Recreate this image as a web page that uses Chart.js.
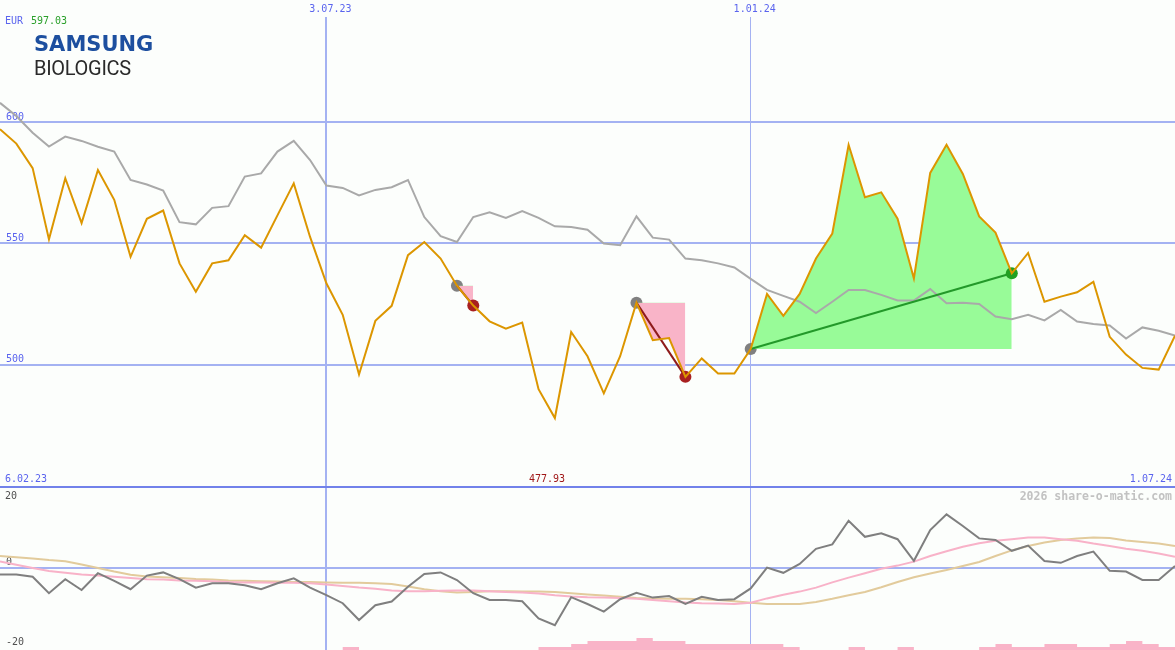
<!DOCTYPE html>
<html>
<head>
<meta charset="utf-8">
<title>Samsung Biologics</title>
<script src="https://cdn.jsdelivr.net/npm/chart.js@4.4.1/dist/chart.umd.min.js"></script>
<style>
  body { margin: 0; background: #fcfefc; }
  #wrap { position: relative; width: 1175px; height: 650px; overflow: hidden; }
  #top { position: absolute; left: 0; top: 0; }
  #sep { position: absolute; left: 0; top: 486px; width: 1175px; height: 2px; background: #7282ea; }
  #bot { position: absolute; left: 0; top: 488px; }
  .t { position: absolute; font: 10px/10px 'DejaVu Sans Mono', monospace; white-space: nowrap; }
  .blue { color: #5a64ee; }
  #brand { position: absolute; left: 34px; top: 34px; font: bold 21px/21px 'DejaVu Sans', sans-serif; color: #1d4f9f; }
  #sub { position: absolute; left: 34px; top: 58px; font: 20px/20px Roboto, sans-serif; letter-spacing: -0.3px; color: #2a2a2a; }
  #mark { position: absolute; right: 3px; top: 491px; font: bold 11.5px/11.5px 'DejaVu Sans Mono', monospace; color: #c2c2c2; }
</style>
</head>
<body>
<div id="wrap">
  <canvas id="top" width="1175" height="486"></canvas>
  <div id="sep"></div>
  <canvas id="bot" width="1175" height="162"></canvas>

  <div class="t blue" style="left:5px;top:16px">EUR</div>
  <div class="t" id="hi" style="left:31px;top:16px;color:#2aa02a"></div>
  <div id="brand">SAMSUNG</div>
  <div id="sub">BIOLOGICS</div>

  <div class="t blue" style="left:5px;top:474px">6.02.23</div>
  <div class="t" id="lo" style="left:529px;top:474px;color:#a01818"></div>
  <div class="t blue" style="right:3px;top:474px">1.07.24</div>
  <div id="mark">2026 share-o-matic.com</div>
</div>

<script>
// weekly closes, index 0 = first week shown
const price = [
  597.03, 591.1, 581.0, 551.6, 576.8, 558.3, 580.2, 567.9, 544.4, 560.1,
  563.5, 541.7, 530.0, 541.7, 543.0, 553.3, 548.2, 561.5, 574.7, 552.6,
  533.5, 520.5, 495.9, 518.0, 524.2, 545.1, 550.5, 543.7, 532.5, 524.3,
  517.8, 514.8, 517.3, 489.8, 477.93, 513.4, 503.4, 488.1, 503.4, 525.5,
  510.0, 510.9, 494.9, 502.5, 496.3, 496.3, 506.4, 529.1, 520.1, 529.1,
  543.7, 554.0, 590.6, 569.0, 571.0, 560.1, 535.5, 579.0, 590.6, 578.6,
  561.1, 554.4, 537.6, 546.0, 525.9, 528.0, 529.8, 534.1, 511.4, 504.1,
  498.6, 497.9, 511.9
]

// grey comparison line
const compare = [
  607.9, 602.5, 595.6, 589.9, 594.0, 592.2, 589.8, 587.8, 576.1, 574.2,
  571.7, 558.7, 557.8, 564.6, 565.3, 577.5, 578.8, 587.8, 592.2, 584.3,
  573.8, 572.8, 569.7, 572.0, 573.1, 576.1, 560.8, 552.9, 550.5, 560.8,
  562.8, 560.4, 563.3, 560.5, 557.0, 556.7, 555.6, 549.9, 549.2, 561.1,
  552.3, 551.5, 543.7, 543.0, 541.7, 540.0, 535.3, 530.8, 528.3, 525.9,
  521.2, 525.9, 530.7, 530.7, 528.7, 526.4, 526.4, 531.1, 525.3, 525.5,
  525.0, 519.8, 518.7, 520.5, 518.2, 522.5, 517.7, 516.7, 516.1, 510.7,
  515.3, 513.9, 511.9
]

// lower panel
const momentum = [
  -1.6, -1.6, -2.2, -6.3, -2.8, -5.5, -1.3, -3.2, -5.3, -1.9,
  -1.1, -2.8, -4.9, -3.8, -3.8, -4.3, -5.3, -3.8, -2.6, -4.9,
  -6.8, -8.8, -13.0, -9.3, -8.4, -4.7, -1.5, -1.1, -3.0, -6.3,
  -8.0, -8.0, -8.3, -12.6, -14.3, -7.3, -9.0, -10.9, -7.8, -6.2,
  -7.4, -7.0, -9.0, -7.2, -8.0, -7.8, -5.1, 0.1, -1.2, 1.0,
  4.8, 5.9, 11.8, 7.8, 8.7, 7.2, 1.8, 9.5, 13.4, 10.5,
  7.4, 7.0, 4.3, 5.6, 1.75, 1.3, 3.0, 4.1, -0.7, -0.9,
  -3.0, -3.0, 0.5
]

const signalFast = [
  1.6, 0.8, 0.0, -0.75, -1.2, -1.6, -1.9, -2.2, -2.5, -2.8,
  -2.9, -3.1, -3.2, -3.3, -3.5, -3.6, -3.6, -3.7, -3.7, -3.8,
  -4.1, -4.5, -4.9, -5.2, -5.6, -5.8, -5.8, -5.7, -5.6, -5.6,
  -5.8, -6.0, -6.1, -6.4, -6.8, -7.1, -7.3, -7.4, -7.5, -7.7,
  -8.0, -8.3, -8.6, -8.8, -8.9, -9.0, -8.7, -7.6, -6.7, -5.9,
  -4.9, -3.6, -2.4, -1.3, -0.2, 0.6, 1.6, 3.0, 4.2, 5.3,
  6.2, 6.8, 7.2, 7.6, 7.6, 7.2, 6.8, 6.1, 5.5, 4.8,
  4.3, 3.6, 2.8
]

const signalSlow = [
  3.0, 2.7, 2.4, 2.0, 1.7, 0.9, 0.0, -0.9, -1.7, -2.1,
  -2.3, -2.5, -2.75, -2.9, -3.1, -3.2, -3.3, -3.4, -3.5, -3.5,
  -3.6, -3.7, -3.7, -3.8, -4.0, -4.6, -5.3, -5.8, -6.1, -6.0,
  -5.8, -5.8, -5.9, -5.9, -6.0, -6.3, -6.6, -6.9, -7.2, -7.5,
  -7.6, -7.7, -7.7, -7.8, -8.0, -8.3, -8.7, -9.0, -9.0, -9.0,
  -8.5, -7.7, -6.8, -6.0, -4.8, -3.5, -2.3, -1.4, -0.5, 0.5,
  1.5, 3.0, 4.4, 5.5, 6.4, 7.0, 7.4, 7.6, 7.5, 6.9,
  6.5, 6.1, 5.5
]

// relative volume, one step per week
const volume = [
  0, 0, 0, 0, 0, 0, 0, 0, 0, 0,
  0, 0, 0, 0, 0, 0, 0, 0, 0, 0,
  0, 1, 0, 0, 0, 0, 0, 0, 0, 0,
  0, 0, 0, 1, 1, 2, 3, 3, 3, 4,
  3, 3, 2, 2, 2, 2, 2, 2, 1, 0,
  0, 0, 1, 0, 0, 1, 0, 0, 0, 0,
  1, 2, 1, 1, 2, 2, 1, 1, 2, 3,
  2, 1, 0
]

// trades: entry / exit week
const tradeStart = [28, 39, 46]
const tradeEnd = [29, 42, 62]

const dateTicks = [20, 46]
const dateLabels = ['3.07.23', '1.01.24']
const priceTicks = [500, 550, 600]
const oscTicks = [0, -20]
const oscTopTick = [20]

;(() => {
  'use strict'

  const mono = { family: "'DejaVu Sans Mono', monospace", size: 10 }
  const blueText = '#5a64ee'
  const gridBlue = '#a4b2f2'
  const orange = '#dc9600'
  const last = price.length - 1

  document.getElementById('hi').textContent = Math.max(...price).toFixed(2)
  document.getElementById('lo').textContent = Math.min(...price).toFixed(2)

  const pts = (arr, from = 0, to = arr.length - 1) =>
    arr.slice(from, to + 1).map((v, k) => ({ x: from + k, y: v }))

  const noPad = (s) => {
    s.paddingTop = 0
    s.paddingBottom = 0
    s.paddingLeft = 0
    s.paddingRight = 0
  }

  const baseOptions = {
    responsive: false,
    animation: false,
    events: [],
    layout: { padding: 0, autoPadding: false },
    plugins: { legend: { display: false }, tooltip: { enabled: false } }
  }

  // Price panel
  const topSets = [
    { data: pts(price), borderColor: orange, borderWidth: 2, pointRadius: 0, order: 0 },
    { data: pts(compare), borderColor: '#a9a9a9', borderWidth: 2, pointRadius: 0, order: 3 }
  ]

  tradeStart.forEach((a, k) => {
    const b = tradeEnd[k]
    const win = price[b] > price[a]
    topSets.push({
      data: pts(price, a, b),
      borderColor: 'transparent',
      borderWidth: 0,
      pointRadius: 0,
      fill: { target: { value: price[a] }, above: '#98fb98', below: '#f9b4c8' },
      order: 4
    })
    topSets.push({
      data: [{ x: a, y: price[a] }, { x: b, y: price[b] }],
      borderColor: win ? '#23992a' : '#8e1b1b',
      borderWidth: 2,
      pointRadius: 0,
      order: 2
    })
    topSets.push({
      data: [{ x: a, y: price[a] }],
      showLine: false,
      pointRadius: 6,
      pointBorderWidth: 0,
      pointBackgroundColor: '#808080',
      pointBorderColor: '#808080',
      order: 5
    })
    topSets.push({
      data: [{ x: b, y: price[b] }],
      showLine: false,
      pointRadius: 6,
      pointBorderWidth: 0,
      pointBackgroundColor: win ? '#22a022' : '#a82020',
      pointBorderColor: win ? '#22a022' : '#a82020',
      order: 1
    })
  })

  new Chart(document.getElementById('top'), {
    type: 'line',
    data: { datasets: topSets },
    options: {
      ...baseOptions,
      scales: {
        x: {
          type: 'linear',
          position: 'top',
          min: 0,
          max: last,
          afterBuildTicks: (s) => { s.ticks = dateTicks.map(v => ({ value: v })) },
          afterFit: (s) => { s.height = 17; noPad(s) },
          ticks: {
            font: mono,
            color: blueText,
            padding: 2,
            labelOffset: 4,
            maxRotation: 0,
            autoSkip: false,
            callback: (v, i) => dateLabels[i]
          },
          grid: { color: gridBlue, lineWidth: c => (c.index === 0 ? 2 : 1), drawTicks: false },
          border: { display: false }
        },
        y: {
          min: 449.9,
          max: 643.3,
          afterBuildTicks: (s) => { s.ticks = priceTicks.map(v => ({ value: v })) },
          afterFit: (s) => { s.width = 0; noPad(s) },
          ticks: { mirror: true, padding: 6, labelOffset: -5, font: mono, color: blueText },
          grid: { color: gridBlue, lineWidth: 2, drawTicks: false },
          border: { display: false }
        }
      }
    }
  })

  // Oscillator panel
  new Chart(document.getElementById('bot'), {
    type: 'line',
    data: {
      datasets: [
        { data: pts(momentum), borderColor: '#7f7f7f', borderWidth: 2, pointRadius: 0, order: 0 },
        { data: pts(signalFast), borderColor: '#f8b2c8', borderWidth: 2, pointRadius: 0, order: 1 },
        { data: pts(signalSlow), borderColor: '#e2cb9c', borderWidth: 2, pointRadius: 0, order: 2 },
        {
          data: pts(volume),
          yAxisID: 'yv',
          stepped: true,
          borderColor: 'transparent',
          borderWidth: 0,
          backgroundColor: '#f9b4c8',
          fill: 'origin',
          pointRadius: 0,
          order: 3
        }
      ]
    },
    options: {
      ...baseOptions,
      scales: {
        x: {
          type: 'linear',
          min: 0,
          max: last,
          afterBuildTicks: (s) => { s.ticks = dateTicks.map(v => ({ value: v })) },
          afterFit: (s) => { s.height = 0; noPad(s) },
          ticks: { display: false },
          grid: { color: gridBlue, lineWidth: c => (c.index === 0 ? 2 : 1), drawTicks: false },
          border: { display: false }
        },
        y: {
          min: -20.5,
          max: 20,
          afterBuildTicks: (s) => { s.ticks = oscTicks.map(v => ({ value: v })) },
          afterFit: (s) => { s.width = 0; noPad(s) },
          ticks: { mirror: true, padding: 6, labelOffset: -6, font: mono, color: '#505050' },
          grid: { color: c => (c.tick.value === 0 ? gridBlue : 'transparent'), lineWidth: 2, drawTicks: false },
          border: { display: false }
        },
        y2: {
          position: 'left',
          min: -20.5,
          max: 20,
          afterBuildTicks: (s) => { s.ticks = oscTopTick.map(v => ({ value: v })) },
          afterFit: (s) => { s.width = 0; noPad(s) },
          ticks: { mirror: true, padding: 5, labelOffset: 8, font: mono, color: '#505050' },
          grid: { display: false },
          border: { display: false }
        },
        yv: { min: 0, max: 54, display: false }
      }
    }
  })
})()
</script>
</body>
</html>
